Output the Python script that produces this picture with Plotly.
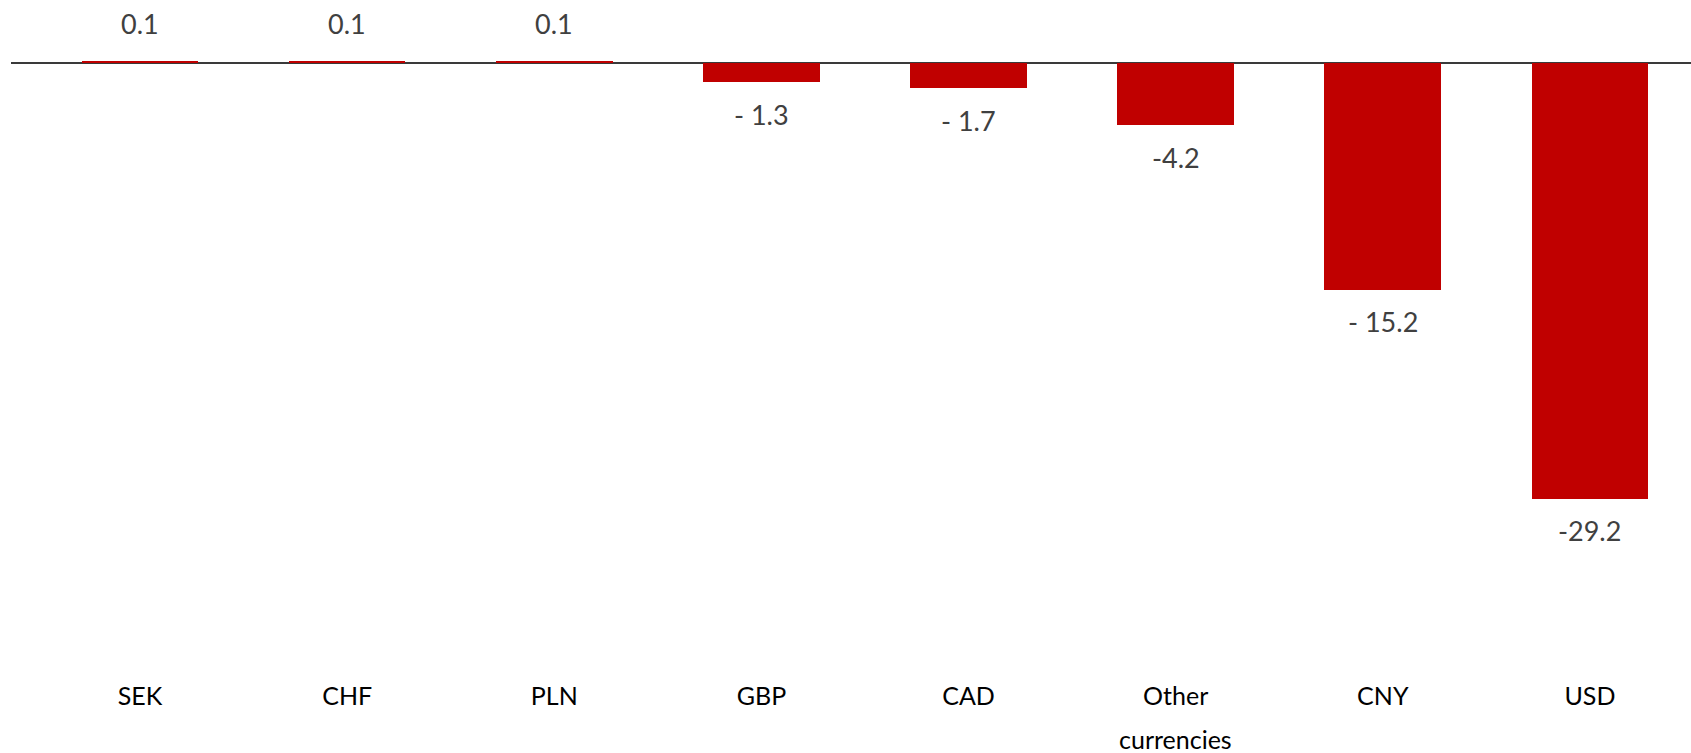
import plotly.graph_objects as go

# Currency contributions (percentage points)
currencies = ["SEK", "CHF", "PLN", "GBP", "CAD", "Other currencies", "CNY", "USD"]
values = [0.1, 0.1, 0.1, -1.3, -1.7, -4.2, -15.2, -29.2]

BAR_RED = "#C00000"
LABEL_GREY = "#404040"
FONT = "Lato"


def fmt(v):
    s = f"{v:.1f}"
    # the "1" glyph sits apart from the minus sign
    return s.replace("-1", "- 1")


fig = go.Figure()
fig.add_trace(go.Bar(
    x=list(range(len(currencies))),
    y=values,
    width=0.563,
    marker=dict(color=BAR_RED, line=dict(width=0)),
    hoverinfo="skip",
))

# value labels: above positive bars, below negative ones
for i, v in enumerate(values):
    fig.add_annotation(
        x=i, y=v, xref="x", yref="y",
        text=fmt(v),
        showarrow=False,
        yshift=38 if v > 0 else -32,
        font=dict(family=FONT, size=27, color=LABEL_GREY),
    )

# category labels: first word on the axis, any remainder on a second line below
first_lines = [c.split(" ", 1)[0] for c in currencies]
for i, c in enumerate(currencies):
    parts = c.split(" ", 1)
    if len(parts) > 1:
        fig.add_annotation(
            x=i, y=0, xref="x", yref="paper",
            text=parts[1], showarrow=False,
            yanchor="middle", yshift=-64,
            font=dict(family=FONT, size=25, color="black"),
        )

fig.update_layout(
    width=1691, height=753,
    margin=dict(l=11, r=0, t=10, b=78),
    paper_bgcolor="white", plot_bgcolor="white",
    showlegend=False,
    bargap=0,
    xaxis=dict(
        range=[-0.623, 7.488],
        tickmode="array",
        tickvals=list(range(len(currencies))),
        ticktext=first_lines,
        showgrid=False, zeroline=False, showline=False,
        ticks="", ticklen=0,
        ticklabelstandoff=4,
        tickfont=dict(family=FONT, size=25, color="black"),
    ),
    yaxis=dict(
        range=[-41.0, 3.53],
        showgrid=False, showticklabels=False, showline=False,
        zeroline=True, zerolinecolor="#3a3a3a", zerolinewidth=1.5,
    ),
)

fig.write_html("out.html")
